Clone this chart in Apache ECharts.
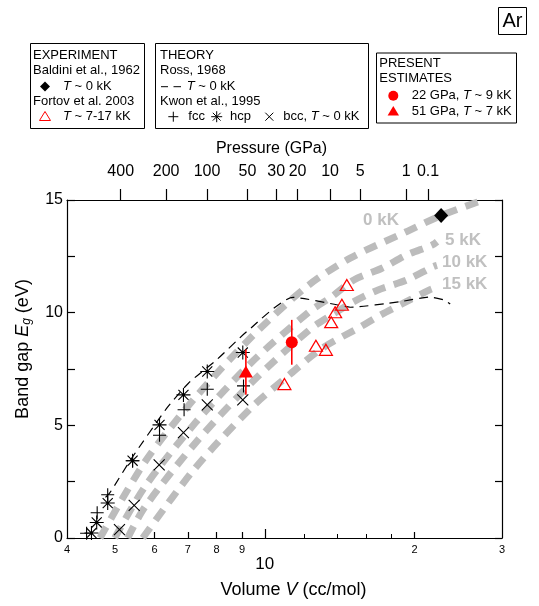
<!DOCTYPE html>
<html><head><meta charset="utf-8">
<script src="https://cdn.jsdelivr.net/npm/echarts@6/dist/echarts.min.js"></script>
<style>html,body{margin:0;padding:0;background:#fff}#c{width:539px;height:606px}</style>
</head><body><div id="c"></div>
<script>
const FONT = '"Liberation Sans", Arial, Helvetica, sans-serif';
// ---- axes ----
const volumeTicks = [4, 5, 6, 7, 8, 9, 10, 20, 30];
const volumeTickLabels = ['4', '5', '6', '7', '8', '9', '10', '2', '3'];
const volumeMinorTicks = [12, 14, 16, 18];
const pressureVolumes = [5.13, 6.33, 7.65, 9.23, 10.54, 11.64, 13.53, 15.56, 19.25, 21.3];
const pressureLabels = ['400', '200', '100', '50', '30', '20', '10', '5', '1', '0.1'];
// ---- Kwon et al. 1995 ----
const hcpV = [4.48, 4.59, 4.83, 5.42, 6.14, 6.86, 7.66, 9.03];
const hcpE = [0.22, 0.69, 1.55, 3.43, 5.02, 6.35, 7.39, 8.23];
const fccV = [4.38, 4.60, 4.83, 5.42, 6.14, 6.88, 7.66, 9.06];
const fccE = [0.21, 1.12, 1.92, 3.43, 4.56, 5.69, 6.60, 6.75];
const bccV = [5.10, 5.46, 6.13, 6.86, 7.66, 9.03];
const bccE = [0.37, 1.45, 3.25, 4.68, 5.91, 6.13];
// ---- Ross 1968 ----
const rossV = [4.78, 4.88, 5.40, 6.35, 7.02, 8.00, 9.20, 11.40, 13.96, 14.85, 18.72, 21.51, 22.88, 23.60];
const rossE = [1.80, 2.01, 3.55, 5.76, 6.87, 7.91, 9.16, 10.68, 10.35, 10.24, 10.49, 10.69, 10.57, 10.38];
// ---- experiments ----
const baldiniV = [22.63];
const baldiniE = [14.31];
const fortovV = [10.95, 12.67, 13.27, 13.60, 13.85, 14.29, 14.62];
const fortovE = [6.83, 8.53, 8.35, 9.58, 10.02, 10.35, 11.23];
// ---- present estimates ----
const est22V = [11.33], est22E = [8.69], est22Lo = [7.69], est22Hi = [9.68];
const est51V = [9.16], est51E = [7.39], est51Lo = [6.36], est51Hi = [8.36];
// ---- isotherms ----
const iso0V = [4.66, 5.74, 7.24, 9.41, 12.15, 14.85, 19.3, 22.63, 27.5];
const iso0E = [0.0, 3.38, 6.22, 8.93, 11.16, 12.42, 13.6, 14.31, 15.0];
const iso5V = [4.99, 5.74, 7.24, 9.41, 12.3, 13.64, 15.1, 17.2, 19.3, 21.7, 22.2];
const iso5E = [0.0, 2.28, 5.1, 7.8, 10.05, 10.71, 11.45, 11.97, 12.56, 13.0, 13.15];
const iso10V = [5.30, 5.74, 7.24, 9.41, 12.3, 13.64, 15.1, 16.9, 19.3, 21.8, 22.2];
const iso10E = [0.0, 1.38, 4.2, 6.9, 9.24, 9.9, 10.49, 11.01, 11.45, 12.04, 12.1];
const iso15V = [5.68, 7.24, 9.41, 11.2, 13.0, 15.6, 17.1, 19.0, 21.5, 22.0];
const iso15E = [0.0, 3.1, 5.8, 7.24, 8.4, 9.38, 9.9, 10.42, 11.02, 11.1];
const isoLabels = ['0 kK', '5 kK', '10 kK', '15 kK'];

const zip = (a, b) => a.map((v, i) => [v, b[i]]);
const RED = '#ff0000';
const GRAY = '#bcbcbc';
const PLUS = 'path://M0,-1L0,1M-1,0L1,0';
const CROSS = 'path://M-1,-1L1,1M-1,1L1,-1';
const STAR = 'path://M0,-1L0,1M-1,0L1,0M-0.72,-0.72L0.72,0.72M-0.72,0.72L0.72,-0.72';

function lookup(arr, labels, v) {
  for (let i = 0; i < arr.length; i++) if (Math.abs(arr[i] - v) < 1e-4 * arr[i]) return labels[i];
  return '';
}
function isoSeries(v, e) {
  return { type: 'line', data: zip(v, e), showSymbol: false, smooth: 0.3, z: 1, silent: true,
    lineStyle: { color: GRAY, width: 7, type: [13, 9], cap: 'butt' } };
}
function errSeries(v, lo, hi) {
  return { type: 'custom', z: 4, data: v.map((x, i) => [x, lo[i], hi[i]]),
    renderItem: function (params, api) {
      const a = api.coord([api.value(0), api.value(1)]);
      const b = api.coord([api.value(0), api.value(2)]);
      return { type: 'line', shape: { x1: a[0], y1: a[1], x2: b[0], y2: b[1] }, style: { stroke: RED, lineWidth: 1.6 } };
    } };
}

// ---- graphic (legend boxes and annotations) ----
const G = [];
const rich = { i: { fontStyle: 'italic', fontFamily: FONT, fontSize: 13 } };
function T(x, y, text, extra) {
  G.push({ type: 'text', x: x, y: y, z: 100, style: Object.assign({ text: text, fontFamily: FONT, fontSize: 13, fill: '#000', align: 'left', verticalAlign: 'middle', rich: rich }, extra || {}) });
}
function L(x1, y1, x2, y2, c, w) { G.push({ type: 'line', z: 100, shape: { x1: x1, y1: y1, x2: x2, y2: y2 }, style: { stroke: c || '#000', lineWidth: w || 1 } }); }
function R(x, y, w, h) { G.push({ type: 'rect', z: 99, shape: { x: x + 0.5, y: y + 0.5, width: w, height: h }, style: { fill: '#fff', stroke: '#000', lineWidth: 1 } }); }
function P(pts, style) { G.push({ type: 'polygon', z: 100, shape: { points: pts }, style: style }); }

R(30, 43, 114, 85);
T(33, 55, 'EXPERIMENT');
T(33, 70, 'Baldini et al., 1962');
P([[45, 81.5], [50, 86.5], [45, 91.5], [40, 86.5]], { fill: '#000' });
T(63, 86.7, '{i|T} ~ 0 kK');
T(33, 101.7, 'Fortov et al. 2003');
P([[45, 111.5], [50.5, 120.5], [39.5, 120.5]], { fill: 'none', stroke: RED, lineWidth: 1 });
T(63, 116.7, '{i|T} ~ 7-17 kK');

R(155, 43, 213, 85);
T(160, 55, 'THEORY');
T(160, 70, 'Ross, 1968');
L(161, 86.7, 168, 86.7); L(173.5, 86.7, 181, 86.7);
T(186.7, 86.7, '{i|T} ~ 0 kK');
T(160, 101.7, 'Kwon et al., 1995');
L(173.3, 111.7, 173.3, 121.7); L(168.3, 116.7, 178.3, 116.7);
T(188.3, 116.7, 'fcc');
L(216.7, 111.2, 216.7, 122.2); L(211.2, 116.7, 222.2, 116.7); L(212.8, 112.8, 220.6, 120.6); L(212.8, 120.6, 220.6, 112.8);
T(230, 116.7, 'hcp');
L(265.3, 112.7, 273.3, 120.7); L(265.3, 120.7, 273.3, 112.7);
T(283.3, 116.7, 'bcc, {i|T} ~ 0 kK');

R(376, 52.5, 140, 70);
T(379.3, 63.3, 'PRESENT');
T(379.3, 78.3, 'ESTIMATES');
G.push({ type: 'circle', z: 100, shape: { cx: 393.3, cy: 95.7, r: 5 }, style: { fill: RED } });
T(411.7, 95.7, '22 GPa, {i|T} ~ 9 kK');
P([[393.3, 106], [399, 115.5], [387.6, 115.5]], { fill: RED });
T(411.7, 111, '51 GPa, {i|T} ~ 7 kK');

R(498, 7, 28, 27);
T(512.5, 21, 'Ar', { align: 'center', fontSize: 20 });

const isoLabelPos = [[363, 220], [445, 240], [442, 262], [442, 284]];
isoLabels.forEach((s, i) => T(isoLabelPos[i][0], isoLabelPos[i][1], s, { fontSize: 17, fontWeight: 'bold', fill: '#c0c0c0' }));

const axisTextStyle = { fontFamily: FONT, color: '#000' };
const option = {
  animation: false,
  backgroundColor: '#fff',
  grid: { left: 67, right: 37, top: 200, bottom: 68 },
  xAxis: [
    { type: 'log', logBase: 10, min: 4, max: 30, position: 'bottom',
      name: '{n|Volume }{i|V}{n| (cc/mol)}', nameLocation: 'middle', nameGap: 43,
      nameTextStyle: { padding: [0, 0, 0, 18], rich: { n: { fontFamily: FONT, fontSize: 18, color: '#000' }, i: { fontFamily: FONT, fontSize: 18, fontStyle: 'italic', color: '#000' } } },
      axisLine: { show: true, lineStyle: { color: '#000', width: 1.2 } },
      axisTick: { show: true, inside: true, length: 6, customValues: [5, 6, 7, 8, 9, 20], lineStyle: { color: '#000', width: 1.2 } },
      axisLabel: { show: true, margin: 5, customValues: volumeTicks,
        formatter: function (v) { const s = lookup(volumeTicks, volumeTickLabels, v); return s === '10' ? '{big|10}' : '{s|' + s + '}'; },
        rich: { big: { fontFamily: FONT, fontSize: 17, lineHeight: 42, color: '#000' }, s: { fontFamily: FONT, fontSize: 11, lineHeight: 13, color: '#000' } } },
      splitLine: { show: false }, minorTick: { show: false }, minorSplitLine: { show: false } },
    { type: 'log', logBase: 10, min: 4, max: 30, position: 'bottom',
      axisLine: { show: false }, axisLabel: { show: false }, splitLine: { show: false },
      axisTick: { show: true, inside: true, length: 4, customValues: volumeMinorTicks, lineStyle: { color: '#000', width: 1 } } },
    { type: 'log', logBase: 10, min: 4, max: 30, position: 'bottom',
      axisLine: { show: false }, axisLabel: { show: false }, splitLine: { show: false },
      axisTick: { show: true, inside: true, length: 9, customValues: [10], lineStyle: { color: '#000', width: 1.2 } } },
    { type: 'log', logBase: 10, min: 4, max: 30, position: 'top',
      name: 'Pressure (GPa)', nameLocation: 'middle', nameGap: 43,
      nameTextStyle: Object.assign({ fontSize: 16, padding: [0, 26, 0, 0] }, axisTextStyle),
      axisLine: { show: true, lineStyle: { color: '#000', width: 1.2 } },
      axisTick: { show: true, inside: false, length: 11, customValues: pressureVolumes, lineStyle: { color: '#000', width: 1.2 } },
      axisLabel: Object.assign({ show: true, margin: 20, fontSize: 16, customValues: pressureVolumes,
        formatter: function (v) { return lookup(pressureVolumes, pressureLabels, v); } }, axisTextStyle),
      splitLine: { show: false } }
  ],
  yAxis: [
    { type: 'value', min: 0, max: 15, interval: 2.5, position: 'left',
      name: '{n|Band gap }{i|E}{sub|g}{n| (eV)}', nameLocation: 'middle', nameGap: 34, nameRotate: 90,
      nameTextStyle: { padding: [0, 0, 0, 40], rich: { n: { fontFamily: FONT, fontSize: 18, color: '#000' }, i: { fontFamily: FONT, fontSize: 18, fontStyle: 'italic', color: '#000' }, sub: { fontFamily: FONT, fontSize: 12, fontStyle: 'italic', color: '#000', padding: [8, 0, 0, 0] } } },
      axisLine: { show: true, lineStyle: { color: '#000', width: 1.2 } },
      axisTick: { show: true, inside: true, length: 8, lineStyle: { color: '#000', width: 1.2 } },
      axisLabel: Object.assign({ margin: 4, fontSize: 16, formatter: v => (v % 5 === 0 ? String(v) : '') }, axisTextStyle),
      splitLine: { show: false } },
    { type: 'value', min: 0, max: 15, interval: 2.5, position: 'right',
      axisLine: { show: true, lineStyle: { color: '#000', width: 1.2 } },
      axisTick: { show: true, inside: true, length: 7, lineStyle: { color: '#000', width: 1.2 } },
      axisLabel: { show: false }, splitLine: { show: false } }
  ],
  graphic: G,
  series: [
    isoSeries(iso0V, iso0E), isoSeries(iso5V, iso5E), isoSeries(iso10V, iso10E), isoSeries(iso15V, iso15E),
    { type: 'line', data: zip(rossV, rossE), showSymbol: false, smooth: 0.2, z: 2,
      lineStyle: { color: '#000', width: 1.2, type: [9, 6] } },
    { type: 'scatter', data: zip(fccV, fccE), symbol: PLUS, symbolSize: 13, z: 3,
      itemStyle: { color: 'rgba(0,0,0,0)', borderColor: '#000', borderWidth: 1.1, opacity: 1 } },
    { type: 'scatter', data: zip(hcpV, hcpE), symbol: STAR, symbolSize: 14, z: 3,
      itemStyle: { color: 'rgba(0,0,0,0)', borderColor: '#000', borderWidth: 1.1, opacity: 1 } },
    { type: 'scatter', data: zip(bccV, bccE), symbol: CROSS, symbolSize: 11, z: 3,
      itemStyle: { color: 'rgba(0,0,0,0)', borderColor: '#000', borderWidth: 1.1, opacity: 1 } },
    { type: 'scatter', data: zip(fortovV, fortovE), symbol: 'triangle', symbolSize: [13, 11], z: 3,
      itemStyle: { color: 'rgba(255,255,255,0)', borderColor: RED, borderWidth: 1.2, opacity: 1 } },
    errSeries(est22V, est22Lo, est22Hi),
    errSeries(est51V, est51Lo, est51Hi),
    { type: 'scatter', data: zip(est22V, est22E), symbol: 'circle', symbolSize: 12, z: 5, itemStyle: { color: RED, opacity: 1 } },
    { type: 'scatter', data: zip(est51V, est51E), symbol: 'triangle', symbolSize: [14, 12], z: 5, itemStyle: { color: RED, opacity: 1 } },
    { type: 'scatter', data: zip(baldiniV, baldiniE), symbol: 'diamond', symbolSize: [14, 15], z: 5, itemStyle: { color: '#000', opacity: 1 } }
  ]
};
const chart = echarts.init(document.getElementById('c'), null, { renderer: 'canvas' });
chart.setOption(option);
</script></body></html>
